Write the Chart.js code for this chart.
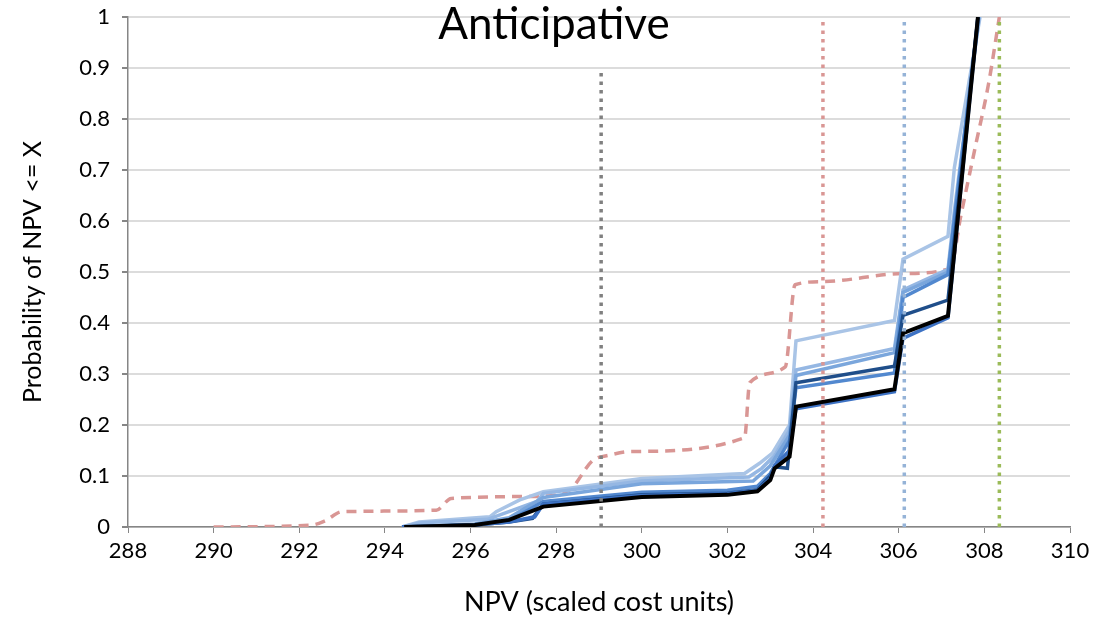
<!DOCTYPE html>
<html>
<head>
<meta charset="utf-8">
<script src="https://cdn.jsdelivr.net/npm/chart.js@4.4.0/dist/chart.umd.min.js"></script>
<style>
  html, body { margin: 0; padding: 0; background: #fff; }
</style>
</head>
<body>
<canvas id="myChart" width="1094" height="620"></canvas>
<script>
// x ticks 288..310 step 2, y ticks 0..1 step 0.1
const xMin = 288, xMax = 310, xStep = 2;
const yMin = 0, yMax = 1, yStep = 0.1;

// blue family of runs (light -> dark)
const lightestX = [294.4, 294.8, 296.45, 296.6, 297.15, 297.7, 300.0, 302.4, 302.75, 303.05, 303.45, 303.6, 305.9, 306.1, 307.15, 307.3, 307.9];
const lightestY = [0, 0.01, 0.02, 0.03, 0.053, 0.069, 0.095, 0.105, 0.125, 0.145, 0.2, 0.365, 0.405, 0.525, 0.57, 0.705, 1.0];

const lightX = [294.4, 294.8, 296.4, 297.55, 297.7, 300.0, 302.5, 302.8, 303.1, 303.45, 303.6, 305.9, 306.1, 307.15, 307.3, 307.88];
const lightY = [0, 0.008, 0.015, 0.05, 0.066, 0.09, 0.098, 0.115, 0.14, 0.19, 0.308, 0.35, 0.465, 0.505, 0.62, 1.0];

const midLightX = [294.4, 296.1, 296.9, 297.7, 300.0, 302.6, 303.0, 303.45, 303.6, 305.9, 306.1, 307.15, 307.87];
const midLightY = [0, 0.006, 0.018, 0.058, 0.085, 0.09, 0.12, 0.18, 0.297, 0.342, 0.46, 0.5, 1.0];

const midX = [294.4, 296.1, 296.9, 297.7, 300.0, 302.0, 302.7, 303.0, 303.45, 303.6, 305.9, 306.1, 307.15, 307.86];
const midY = [0, 0.005, 0.012, 0.05, 0.068, 0.072, 0.08, 0.105, 0.17, 0.273, 0.302, 0.45, 0.495, 1.0];

const navyX = [294.4, 296.1, 296.9, 297.45, 297.7, 300.0, 302.0, 302.7, 303.0, 303.1, 303.4, 303.6, 305.9, 306.1, 307.15, 307.85];
const navyY = [0, 0.004, 0.01, 0.017, 0.045, 0.063, 0.066, 0.073, 0.1, 0.118, 0.115, 0.283, 0.315, 0.415, 0.445, 1.0];

const blueX = [294.4, 296.1, 296.9, 297.5, 297.7, 300.0, 302.0, 302.7, 303.0, 303.1, 303.45, 303.6, 305.9, 306.1, 307.15, 307.85];
const blueY = [0, 0.004, 0.01, 0.02, 0.045, 0.062, 0.065, 0.072, 0.095, 0.12, 0.15, 0.232, 0.265, 0.37, 0.41, 1.0];

const blackX = [294.45, 296.1, 296.9, 297.7, 300.0, 302.0, 302.7, 303.0, 303.1, 303.45, 303.6, 305.9, 306.1, 307.15, 307.85];
const blackY = [0, 0.004, 0.014, 0.04, 0.059, 0.063, 0.07, 0.092, 0.115, 0.138, 0.236, 0.27, 0.38, 0.414, 1.0];

// dashed pink curve
const pinkX = [290.0, 292.3, 292.6, 293.0, 295.2, 295.55, 297.5, 298.3, 298.85, 299.25, 299.75, 302.4, 302.52, 303.35, 303.58, 304.2, 306.1, 307.2, 307.45, 307.8, 308.1, 308.35];
const pinkY = [0, 0.004, 0.012, 0.03, 0.033, 0.056, 0.06, 0.072, 0.13, 0.141, 0.148, 0.175, 0.283, 0.314, 0.475, 0.481, 0.497, 0.507, 0.61, 0.75, 0.87, 1.0];

// dotted reference lines
const refX = [299.05, 304.23, 306.13, 308.35];
const refTop = [0.89, 1, 1, 1];
const refColors = ['#808080', '#d99694', '#95b3d7', '#9bbb59'];

function pts(xs, ys) {
  return xs.map((x, i) => ({ x: x, y: ys[i] }));
}

function runLine(xs, ys, color, width) {
  return {
    data: pts(xs, ys),
    borderColor: color,
    borderWidth: width,
    pointRadius: 0,
    tension: 0,
    fill: false
  };
}

const refSets = refX.map((x, i) => ({
  data: [{ x: x, y: 0 }, { x: x, y: refTop[i] }],
  borderColor: refColors[i],
  borderWidth: 3.5,
  borderDash: [3.5, 5],
  pointRadius: 0,
  fill: false
}));

const pinkSet = {
  data: pts(pinkX, pinkY),
  borderColor: '#d99694',
  borderWidth: 3.5,
  borderDash: [10, 7],
  pointRadius: 0,
  cubicInterpolationMode: 'monotone',
  fill: false
};

// first dataset is drawn on top
const datasets = [
  ...refSets,
  runLine(blackX, blackY, '#000000', 4),
  runLine(blueX, blueY, '#3d72c4', 3.5),
  runLine(navyX, navyY, '#1f4e8a', 3.5),
  runLine(midX, midY, '#5288cf', 3.5),
  runLine(midLightX, midLightY, '#7aa6dc', 3.5),
  runLine(lightX, lightY, '#95b7e3', 3.5),
  runLine(lightestX, lightestY, '#a9c4e6', 3.5),
  pinkSet
];

const titlePlugin = {
  id: 'innerTitle',
  afterDraw(chart) {
    const c = chart.ctx;
    c.save();
    c.font = '44px Lato';
    c.fillStyle = '#000';
    c.textAlign = 'center';
    c.textBaseline = 'middle';
    c.fillText('Anticipative', 554, 25);
    c.restore();
  }
};

const ctx = document.getElementById('myChart').getContext('2d');
const myChart = new Chart(ctx, {
  type: 'line',
  data: { datasets: datasets },
  options: {
    responsive: false,
    animation: false,
    devicePixelRatio: 1,
    layout: { padding: { top: 17, right: 24, left: 0, bottom: 0 } },
    plugins: {
      legend: { display: false },
      tooltip: { enabled: false }
    },
    scales: {
      x: {
        type: 'linear',
        min: xMin,
        max: xMax,
        afterFit(scale) {
          scale.height = 93;
          scale.paddingLeft = 0;
          scale.paddingRight = 0;
        },
        ticks: {
          stepSize: xStep,
          color: '#000',
          font: { family: 'Lato', size: 22 },
          padding: 5,
          maxRotation: 0
        },
        grid: {
          drawOnChartArea: false,
          drawTicks: true,
          tickLength: 6,
          tickColor: '#868686'
        },
        border: { color: '#868686', width: 1.5 },
        title: {
          display: true,
          text: 'NPV (scaled cost units)',
          color: '#000',
          font: { family: 'Lato', size: 27 },
          padding: { top: 0, bottom: 2 }
        }
      },
      y: {
        min: yMin,
        max: yMax,
        afterFit(scale) {
          scale.width = 128;
          scale.paddingTop = 0;
          scale.paddingBottom = 0;
        },
        ticks: {
          stepSize: yStep,
          color: '#000',
          font: { family: 'Lato', size: 22 },
          padding: 12,
          callback: function(value) {
            return String(Number(value.toFixed(1)));
          }
        },
        grid: {
          color: '#dcdcdc',
          lineWidth: 2,
          tickLength: 6,
          tickColor: '#868686'
        },
        border: { color: '#868686', width: 1.5 },
        title: {
          display: true,
          text: 'Probability of NPV <= X',
          color: '#000',
          font: { family: 'Lato', size: 25 },
          padding: { top: 18, bottom: 0 }
        }
      }
    }
  },
  plugins: [titlePlugin]
});
</script>
</body>
</html>
